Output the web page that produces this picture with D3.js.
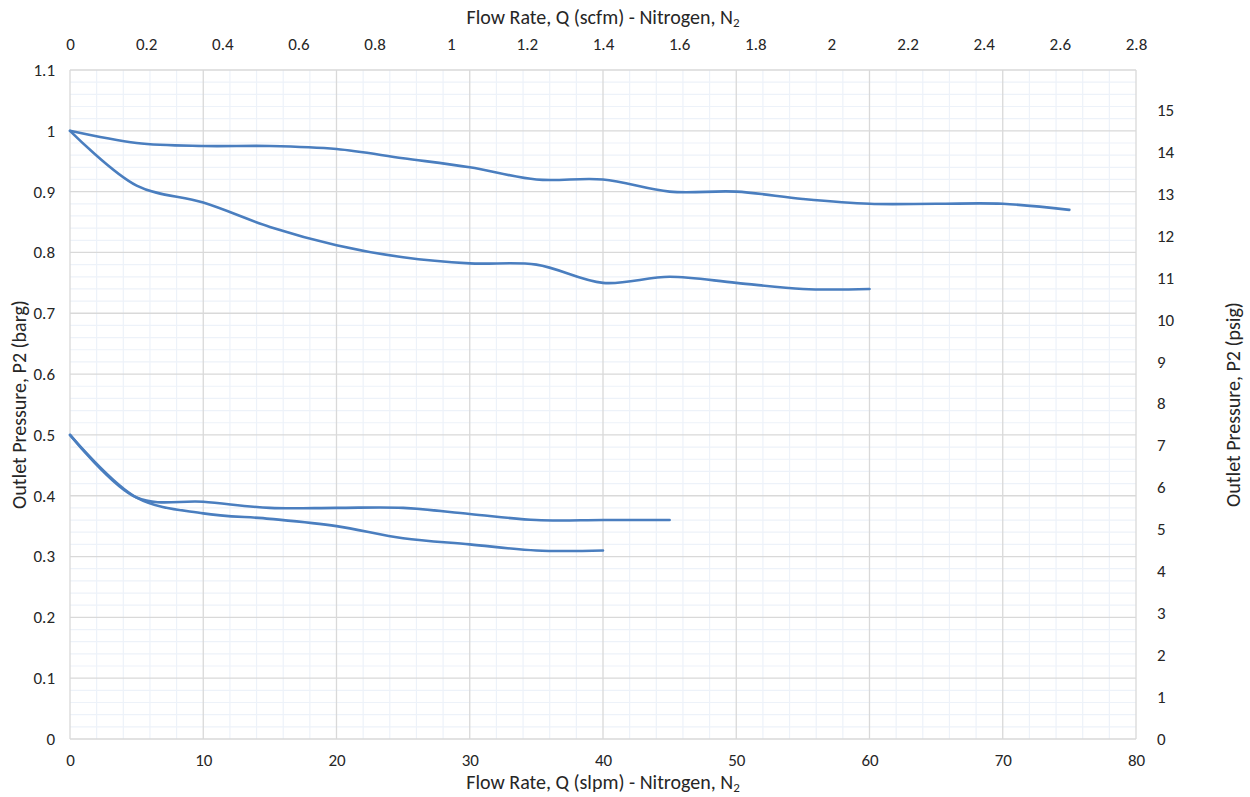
<!DOCTYPE html>
<html>
<head>
<meta charset="utf-8">
<script src="https://cdn.jsdelivr.net/npm/d3@7"></script>
<style>
  body { margin: 0; background: #fff; }
  text { font-family: Calibri, Carlito, Lato, sans-serif; fill: #262626; }
</style>
</head>
<body>
<div id="root"></div>
<script>
// flow rate (slpm) sample points for each curve
const flowA = [0, 5, 10, 15, 20, 25, 30, 35, 40, 45, 50, 55, 60, 65, 70, 75];
const pressureA = [1.0, 0.98, 0.975, 0.975, 0.97, 0.955, 0.94, 0.92, 0.92, 0.90, 0.90, 0.888, 0.88, 0.88, 0.88, 0.87];

const flowB = [0, 5, 10, 15, 20, 25, 30, 35, 40, 45, 50, 55, 60];
const pressureB = [1.0, 0.91, 0.882, 0.842, 0.812, 0.792, 0.782, 0.78, 0.75, 0.76, 0.75, 0.74, 0.74];

const flowC = [0, 5, 10, 15, 20, 25, 30, 35, 40, 45];
const pressureC = [0.5, 0.397, 0.39, 0.38, 0.38, 0.38, 0.37, 0.36, 0.36, 0.36];

const flowD = [0, 5, 10, 15, 20, 25, 30, 35, 40];
const pressureD = [0.5, 0.397, 0.371, 0.362, 0.35, 0.33, 0.32, 0.31, 0.31];

const slpmTicks = [0, 10, 20, 30, 40, 50, 60, 70, 80];
const scfmTicks = [0, 0.2, 0.4, 0.6, 0.8, 1, 1.2, 1.4, 1.6, 1.8, 2, 2.2, 2.4, 2.6, 2.8];
const bargTicks = [0, 0.1, 0.2, 0.3, 0.4, 0.5, 0.6, 0.7, 0.8, 0.9, 1, 1.1];
const psigTicks = [0, 1, 2, 3, 4, 5, 6, 7, 8, 9, 10, 11, 12, 13, 14, 15];

const series = [
  [flowA, pressureA],
  [flowB, pressureB],
  [flowC, pressureC],
  [flowD, pressureD],
].map(([xs, ys]) => xs.map((x, i) => ({ x, y: ys[i] })));

const width = 1250;
const height = 797;
const plot = { left: 70, right: 1136, top: 70, bottom: 739 };

const x = d3.scaleLinear([0, 80], [plot.left, plot.right]);
const xTop = d3.scaleLinear([0, 2.8], [plot.left, plot.right]);
const y = d3.scaleLinear([0, 1.1], [plot.bottom, plot.top]);
const yPsi = d3.scaleLinear([0, 1.1 * 14.5038], [plot.bottom, plot.top]);

const svg = d3.select("#root").append("svg")
  .attr("width", width)
  .attr("height", height);

const grid = svg.append("g");

// minor grid
grid.selectAll(".vminor")
  .data(d3.range(0, 81, 2).filter(d => d % 10 !== 0))
  .join("line")
  .attr("x1", d => x(d)).attr("x2", d => x(d))
  .attr("y1", plot.top).attr("y2", plot.bottom)
  .attr("stroke", "#edf2f9").attr("stroke-width", 1.2);

grid.selectAll(".hminor")
  .data(d3.range(0, 56).map(d => d * 0.02).filter((d, i) => i % 5 !== 0))
  .join("line")
  .attr("x1", plot.left).attr("x2", plot.right)
  .attr("y1", d => y(d)).attr("y2", d => y(d))
  .attr("stroke", "#edf2f9").attr("stroke-width", 1.2);

// major grid
grid.append("g").selectAll("line")
  .data(slpmTicks)
  .join("line")
  .attr("x1", d => x(d)).attr("x2", d => x(d))
  .attr("y1", plot.top).attr("y2", plot.bottom)
  .attr("stroke", "#d9d9d9").attr("stroke-width", 1.3);

grid.append("g").selectAll("line")
  .data(bargTicks)
  .join("line")
  .attr("x1", plot.left).attr("x2", plot.right)
  .attr("y1", d => y(d)).attr("y2", d => y(d))
  .attr("stroke", "#d9d9d9").attr("stroke-width", 1.3);

// axes (labels only, Excel style)
const bottomAxis = svg.append("g")
  .attr("transform", `translate(0,${plot.bottom})`)
  .call(d3.axisBottom(x).tickValues(slpmTicks).tickSize(0).tickPadding(15));

const topAxis = svg.append("g")
  .attr("transform", `translate(0,${plot.top})`)
  .call(d3.axisTop(xTop).tickValues(scfmTicks).tickSize(0).tickPadding(20).tickFormat(d3.format("~g")));

const leftAxis = svg.append("g")
  .attr("transform", `translate(${plot.left},0)`)
  .call(d3.axisLeft(y).tickValues(bargTicks).tickSize(0).tickPadding(15).tickFormat(d3.format("~g")));

const rightAxis = svg.append("g")
  .attr("transform", `translate(${plot.right},0)`)
  .call(d3.axisRight(yPsi).tickValues(psigTicks).tickSize(0).tickPadding(21));

[bottomAxis, topAxis, leftAxis, rightAxis].forEach(a => {
  a.select(".domain").remove();
  a.selectAll("text")
    .attr("font-size", 17)
    .attr("font-family", "Calibri, Carlito, Lato, sans-serif")
    .attr("fill", "#262626");
});

// curves
const line = d3.line()
  .x(d => x(d.x))
  .y(d => y(d.y))
  .curve(d3.curveCatmullRom.alpha(0.5));

svg.append("g").selectAll("path")
  .data(series)
  .join("path")
  .attr("d", line)
  .attr("fill", "none")
  .attr("stroke", "#4a7ebf")
  .attr("stroke-width", 2.6)
  .attr("stroke-linecap", "round");

// axis titles
function flowTitle(sel, unit) {
  sel.append("tspan").text(`Flow Rate, Q (${unit}) - Nitrogen, N`);
  sel.append("tspan").text("2").attr("font-size", 13).attr("dy", 3);
}

svg.append("text")
  .attr("x", (plot.left + plot.right) / 2)
  .attr("y", 24)
  .attr("text-anchor", "middle")
  .attr("font-size", 20)
  .call(flowTitle, "scfm");

svg.append("text")
  .attr("x", (plot.left + plot.right) / 2)
  .attr("y", 789)
  .attr("text-anchor", "middle")
  .attr("font-size", 20)
  .call(flowTitle, "slpm");

svg.append("text")
  .attr("transform", `translate(26,${(plot.top + plot.bottom) / 2}) rotate(-90)`)
  .attr("text-anchor", "middle")
  .attr("font-size", 20)
  .text("Outlet Pressure, P2 (barg)");

svg.append("text")
  .attr("transform", `translate(1240,${(plot.top + plot.bottom) / 2}) rotate(-90)`)
  .attr("text-anchor", "middle")
  .attr("font-size", 20)
  .text("Outlet Pressure, P2 (psig)");
</script>
</body>
</html>
